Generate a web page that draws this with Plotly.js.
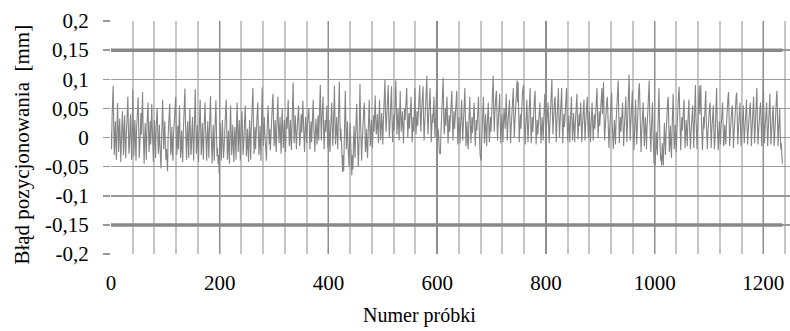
<!DOCTYPE html>
<html>
<head>
<meta charset="utf-8">
<script src="https://cdn.plot.ly/plotly-3.0.1.min.js"></script>
<style>html,body{margin:0;padding:0;background:#fff;}#chart{width:790px;height:331px;}</style>
</head>
<body>
<div id="chart"></div>
<script>
// Positioning error for each sample, in micrometres
const bladUm = [
10,-20,35,60,89,20,-30,5,28,-15,-38,15,59,22,-25,8,32,-5,-42,-10,25,45,5,-30,12,38,-8,-35,0,20,48,70,15,-28,-12,22,40,-5,-38,10,
82,18,-32,5,30,-10,-40,12,35,55,69,10,-35,-15,20,42,5,30,78,22,-30,-45,0,25,-8,-38,15,40,60,18,-25,-5,28,-12,20,58,12,-32,-42,2,
30,-10,-35,18,38,50,8,-28,-8,22,-15,-40,-53,-5,30,65,20,-20,5,28,-12,-38,-20,-45,-58,0,25,40,58,10,-30,-12,18,-25,-40,5,22,35,48,70,
15,-30,-10,20,-20,25,55,5,-35,-15,12,-22,-42,8,30,50,84,25,-25,-38,5,28,-10,-35,18,50,12,-30,-18,15,35,-5,-40,0,45,83,20,-28,-10,22,
-15,-42,5,35,65,12,-30,-8,25,-12,-38,10,32,60,15,-25,-40,2,28,-5,-35,12,40,71,18,-22,-45,-10,22,-15,-40,8,35,64,10,-32,-18,-45,-30,-62,
-10,25,-15,-40,5,30,-8,-35,-20,15,35,48,65,8,-38,-15,12,-28,-45,20,55,10,-30,-5,22,-18,-42,0,18,-12,-38,25,60,15,-25,5,30,-10,-40,8,
28,45,5,-30,-12,20,38,55,10,-32,-18,15,-25,-42,0,30,-5,-38,12,40,62,85,25,-28,-10,18,-20,5,32,48,60,12,-30,-15,20,-10,-40,35,86,30,
-15,10,35,5,-20,-30,-40,8,30,55,20,-12,15,-22,-5,28,42,60,75,25,-15,5,30,-8,-25,18,45,70,20,-10,12,35,-5,-28,20,50,15,-18,8,30,
-5,-25,10,35,15,42,65,20,-15,5,30,-8,-22,25,55,95,35,-10,12,38,10,-20,5,28,45,55,18,-15,-5,22,40,8,30,63,25,-12,-25,10,35,15,
-10,20,38,45,50,12,-20,5,28,-8,15,40,65,22,-15,-25,8,32,12,-12,18,38,-5,25,60,90,30,-5,35,50,70,15,-20,8,30,10,38,55,12,-18,
5,30,-10,-25,15,40,60,18,-15,10,55,89,30,-12,5,35,12,-20,20,65,96,35,-5,15,-20,-40,-59,-30,-58,-10,40,80,25,-20,5,28,-15,-35,-50,0,
25,-10,-40,-65,-30,-55,-10,20,-15,-35,8,35,58,10,-30,-50,-20,40,92,30,-20,-40,-8,18,35,48,60,12,-25,-12,15,-20,-35,5,38,65,20,-15,10,30,
-5,-18,15,38,10,45,72,30,5,20,40,12,-10,35,65,28,-5,15,42,20,-12,25,55,80,100,40,10,30,55,75,90,35,0,20,48,70,88,30,-8,15,
40,12,35,60,98,45,5,25,50,20,-5,40,80,35,10,28,45,18,-10,22,50,30,55,70,85,35,0,25,42,15,38,55,70,28,-8,15,35,10,48,85,
40,5,25,45,20,38,60,75,90,35,10,40,65,80,88,30,-5,20,45,70,85,106,45,5,30,50,68,85,35,-8,15,40,25,50,70,30,0,25,60,90,
35,-5,15,-15,-25,-28,-28,10,45,75,95,103,40,5,25,50,20,40,70,30,-10,15,38,10,30,55,68,80,32,-5,20,45,15,35,60,72,80,30,-12,10,
35,15,-10,20,45,65,25,-5,18,50,72,85,30,-15,5,28,-8,-20,15,45,70,28,-10,12,35,8,25,48,60,20,-15,5,30,12,38,55,70,25,-20,-30,
-35,-40,-5,25,50,70,28,-10,15,40,10,-15,20,45,60,20,-8,12,35,10,30,60,85,106,45,10,40,65,72,80,30,-5,20,45,62,75,28,-10,15,40,
12,-8,25,50,35,15,45,75,30,-5,20,45,55,65,25,-10,15,40,60,72,85,30,0,25,48,65,80,98,60,95,35,-8,18,40,15,45,65,78,85,90,
35,-5,-12,20,42,65,25,-8,15,50,70,85,30,-10,12,35,10,38,55,68,80,28,-12,8,30,5,25,40,52,60,20,-10,12,35,15,-5,30,55,75,28,
-8,15,38,50,60,20,-10,15,45,70,88,100,40,5,30,55,65,70,25,-8,20,48,68,85,35,0,25,55,72,85,30,-10,15,40,18,35,55,70,85,30,
-5,15,38,12,-8,25,50,70,28,-5,20,42,15,-8,22,48,62,75,30,-3,18,40,20,45,60,25,-8,15,38,52,65,25,-5,20,45,58,70,30,0,22,
45,15,-8,20,42,60,25,-5,18,40,15,35,58,72,85,35,0,22,45,20,40,60,75,85,40,70,95,35,-5,15,38,55,62,70,25,-10,-18,10,35,55,
65,77,25,-15,-20,5,30,10,-12,25,50,72,88,98,40,-10,15,35,10,30,48,60,20,-15,10,38,55,70,25,-8,20,55,85,108,45,-5,20,45,65,80,
30,-15,-22,10,40,65,20,-12,15,45,70,85,93,35,-10,-25,5,30,45,60,18,-15,10,35,12,-20,15,40,62,80,98,35,-15,-25,10,38,60,15,-25,-45,
-40,-48,-20,10,-15,-30,15,50,85,25,-25,-40,-30,-48,-10,-35,-48,-5,25,-8,-30,5,35,50,62,70,15,-25,-10,20,-15,-35,10,45,75,25,-20,-5,22,-12,
-25,10,40,60,75,87,30,-15,-22,8,35,12,25,48,65,20,-18,5,30,10,-15,22,45,65,25,-10,-20,10,35,45,55,15,-18,20,55,90,35,-10,-20,12,
40,65,89,40,60,90,30,-15,-22,10,35,15,40,62,80,28,-12,-20,8,30,45,52,60,15,-18,10,35,45,55,12,-20,-5,30,60,85,30,-10,-22,5,28,
10,-12,15,35,48,60,20,-15,-5,22,8,-12,20,45,62,70,78,25,-15,5,30,42,50,55,15,-18,5,28,50,65,72,77,25,-12,10,35,48,60,18,-15,
5,30,42,55,15,-10,15,40,55,65,22,-12,8,30,45,52,60,18,-15,10,38,55,70,25,-10,15,45,68,85,30,-12,5,28,42,52,60,18,-15,20,60,
98,35,-10,12,35,48,60,18,-15,10,40,58,75,25,-12,8,30,45,55,15,-15,5,35,55,68,80,25,-15,10,35,50,12,-20,-10,-30,-45
];
const bladMm = bladUm.map(v => v / 1000);

// Tolerance limits drawn as thick lines
const limitSamples = [0, 1235];
const upperLimit = [0.15, 0.15];
const lowerLimit = [-0.15, -0.15];

// Axis ticks
const yTickVals = [0.2, 0.15, 0.1, 0.05, 0, -0.05, -0.1, -0.15, -0.2];
const yTickText = ['0,2', '0,15', '0,1', '0,05', '0', '-0,05', '-0,1', '-0,15', '-0,2'];
const xTickVals = [0, 200, 400, 600, 800, 1000, 1200];
const xTickText = ['0', '200', '400', '600', '800', '1000', '1200'];

const FONT = "'Liberation Serif', 'Times New Roman', serif";

const traces = [
  { y: bladMm, type: 'scatter', mode: 'lines', line: { color: '#858585', width: 1.1 }, hoverinfo: 'skip' },
  { x: limitSamples, y: upperLimit, type: 'scatter', mode: 'lines', line: { color: '#888888', width: 3.5 } },
  { x: limitSamples, y: lowerLimit, type: 'scatter', mode: 'lines', line: { color: '#888888', width: 3.5 } }
];

const layout = {
  width: 790, height: 331,
  margin: { l: 111, r: 0, t: 21, b: 77, pad: 0 },
  paper_bgcolor: '#ffffff', plot_bgcolor: '#ffffff',
  showlegend: false,
  font: { family: FONT, size: 21, color: '#000000' },
  xaxis: {
    range: [0, 1249], autorange: false,
    tickvals: xTickVals, ticktext: xTickText,
    showgrid: true, gridcolor: '#8e8e8e', gridwidth: 1.5,
    minor: { dtick: 40, tick0: 0, showgrid: true, gridcolor: '#c6c6c6', gridwidth: 2 },
    zeroline: false, showline: false, ticks: '',
    ticklabelstandoff: 14,
    tickfont: { family: FONT, size: 21, color: '#000' }
  },
  yaxis: {
    range: [-0.2, 0.2], autorange: false,
    tickvals: yTickVals, ticktext: yTickText,
    showgrid: true, gridcolor: '#999999', gridwidth: 1.5,
    zeroline: false, showline: false,
    ticks: 'outside', ticklen: 7, tickcolor: '#999999', tickwidth: 1.5,
    ticklabelstandoff: 10,
    tickfont: { family: FONT, size: 21, color: '#000' }
  },
  annotations: [
    { text: 'Numer próbki', xref: 'paper', yref: 'paper', x: 0.455, y: -0.265,
      xanchor: 'center', yanchor: 'middle', showarrow: false,
      font: { family: FONT, size: 20, color: '#000' } },
    { text: 'Błąd pozycjonowania  [mm]', xref: 'paper', yref: 'paper', x: -0.131, y: 0.47,
      xanchor: 'center', yanchor: 'middle', textangle: -90, showarrow: false,
      font: { family: FONT, size: 21, color: '#000' } }
  ]
};

Plotly.newPlot('chart', traces, layout, { staticPlot: true, displayModeBar: false });
</script>
</body>
</html>
